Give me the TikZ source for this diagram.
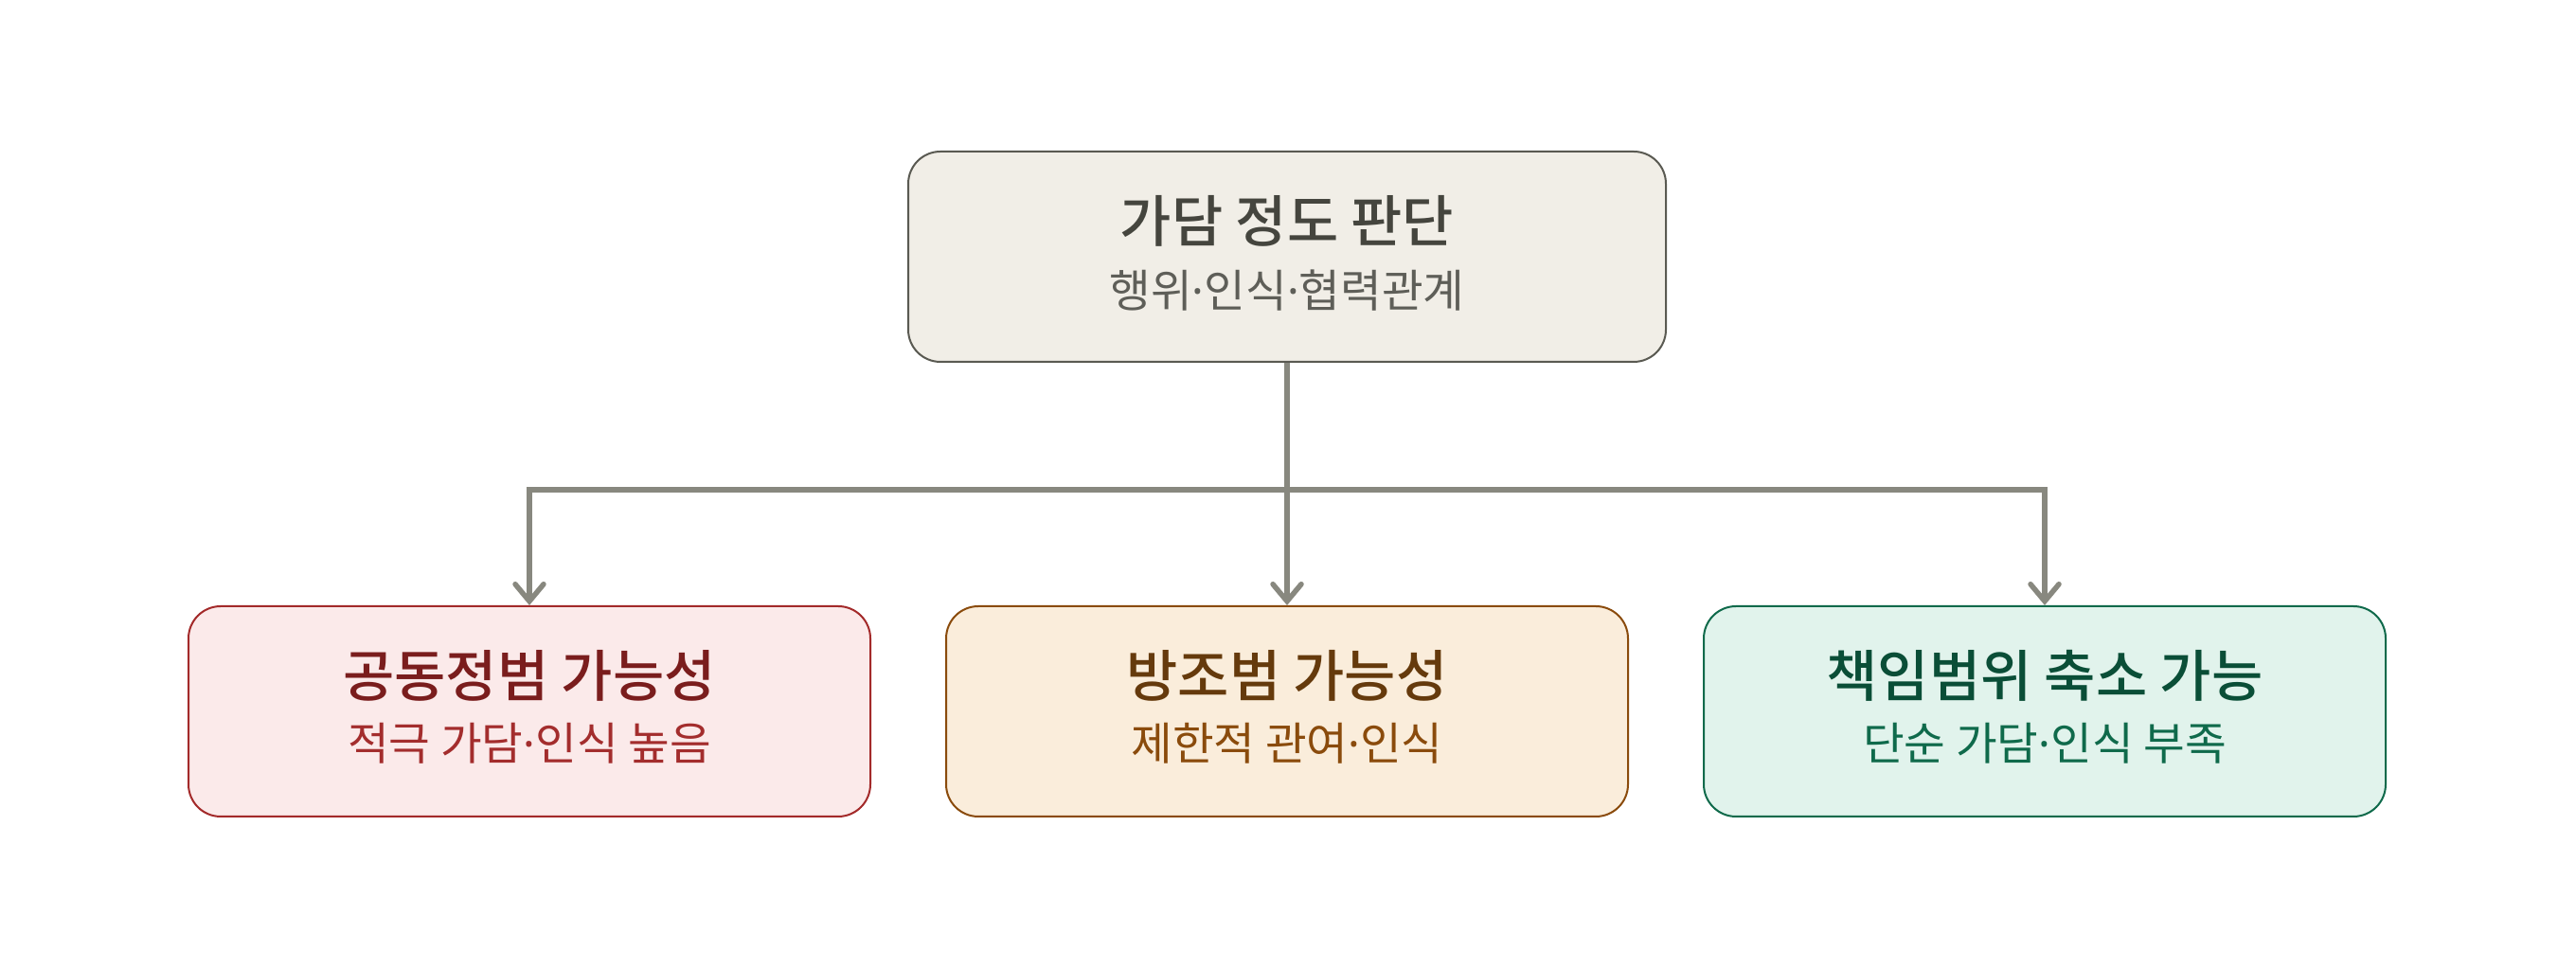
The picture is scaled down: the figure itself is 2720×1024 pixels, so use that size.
\documentclass[tikz,border=0pt]{standalone}
\usepackage{fontspec}
\setmainfont{Noto Sans CJK KR}[BoldFont={Noto Sans CJK KR Medium}]
\newfontfamily\dotfont{Noto Sans}
\newcommand{\md}{{\dotfont ·}}
\usetikzlibrary{arrows.meta}
\definecolor{conn}{HTML}{88887F}
\definecolor{topfill}{HTML}{F1EEE7}
\definecolor{topdraw}{HTML}{5A5A52}
\definecolor{toptitle}{HTML}{45453E}
\definecolor{topsub}{HTML}{5E5E58}
\definecolor{redfill}{HTML}{FBEAEA}
\definecolor{reddraw}{HTML}{A32A2A}
\definecolor{redtitle}{HTML}{7A1D1D}
\definecolor{redsub}{HTML}{A32D2D}
\definecolor{orfill}{HTML}{FAEDDB}
\definecolor{ordraw}{HTML}{8A4B0C}
\definecolor{ortitle}{HTML}{653A0C}
\definecolor{orsub}{HTML}{8A4B0C}
\definecolor{grfill}{HTML}{E1F3EC}
\definecolor{grdraw}{HTML}{0F6A4B}
\definecolor{grtitle}{HTML}{0A4E37}
\definecolor{grsub}{HTML}{0F6A4B}
\tikzset{
  boxstyle/.style={draw, line width=2pt, rounded corners=34pt, inner sep=0pt, minimum height=222pt},
  titletext/.style={font=\fontsize{59}{64}\selectfont\bfseries, inner sep=0pt},
  subtext/.style={font=\fontsize{47.5}{54}\selectfont, inner sep=0pt},
  connline/.style={draw=conn, line width=5.5pt},
  connarrow/.style={connline, -{Straight Barb[length=18pt,width=30pt,line cap=round]}},
}
\begin{document}
\begin{tikzpicture}[x=1pt,y=1pt]
\useasboundingbox[fill=white] (0,0) rectangle (2720,1024);
\node[boxstyle, fill=topfill, draw=topdraw, minimum width=800pt] (top) at (1359,753) {};
\node[boxstyle, fill=redfill, draw=reddraw, minimum width=720pt] (left) at (559,273) {};
\node[boxstyle, fill=orfill, draw=ordraw, minimum width=720pt] (mid) at (1359,273) {};
\node[boxstyle, fill=grfill, draw=grdraw, minimum width=720pt] (right) at (2159,273) {};
\node[titletext, text=toptitle] (toptl) at ([yshift=38pt]top.center) {가담 정도 판단};
\node[subtext, text=topsub] (topst) at ([yshift=-36pt]top.center) {행위\md 인식\md 협력관계};
\node[titletext, text=redtitle] (lefttl) at ([yshift=38pt]left.center) {공동정범 가능성};
\node[subtext, text=redsub] (leftst) at ([yshift=-34pt]left.center) {적극 가담\md 인식 높음};
\node[titletext, text=ortitle] (midtl) at ([yshift=38pt]mid.center) {방조범 가능성};
\node[subtext, text=orsub] (midst) at ([yshift=-34pt]mid.center) {제한적 관여\md 인식};
\node[titletext, text=grtitle] (righttl) at ([yshift=38pt]right.center) {책임범위 축소 가능};
\node[subtext, text=grsub] (rightst) at ([yshift=-34pt]right.center) {단순 가담\md 인식 부족};
\coordinate (j) at (1359,507);
\draw[connline] (top.south) -- (j);
\draw[connarrow] (j) -| (left.north);
\draw[connarrow] (j) -- (mid.north);
\draw[connarrow] (j) -| (right.north);
\end{tikzpicture}
\end{document}
